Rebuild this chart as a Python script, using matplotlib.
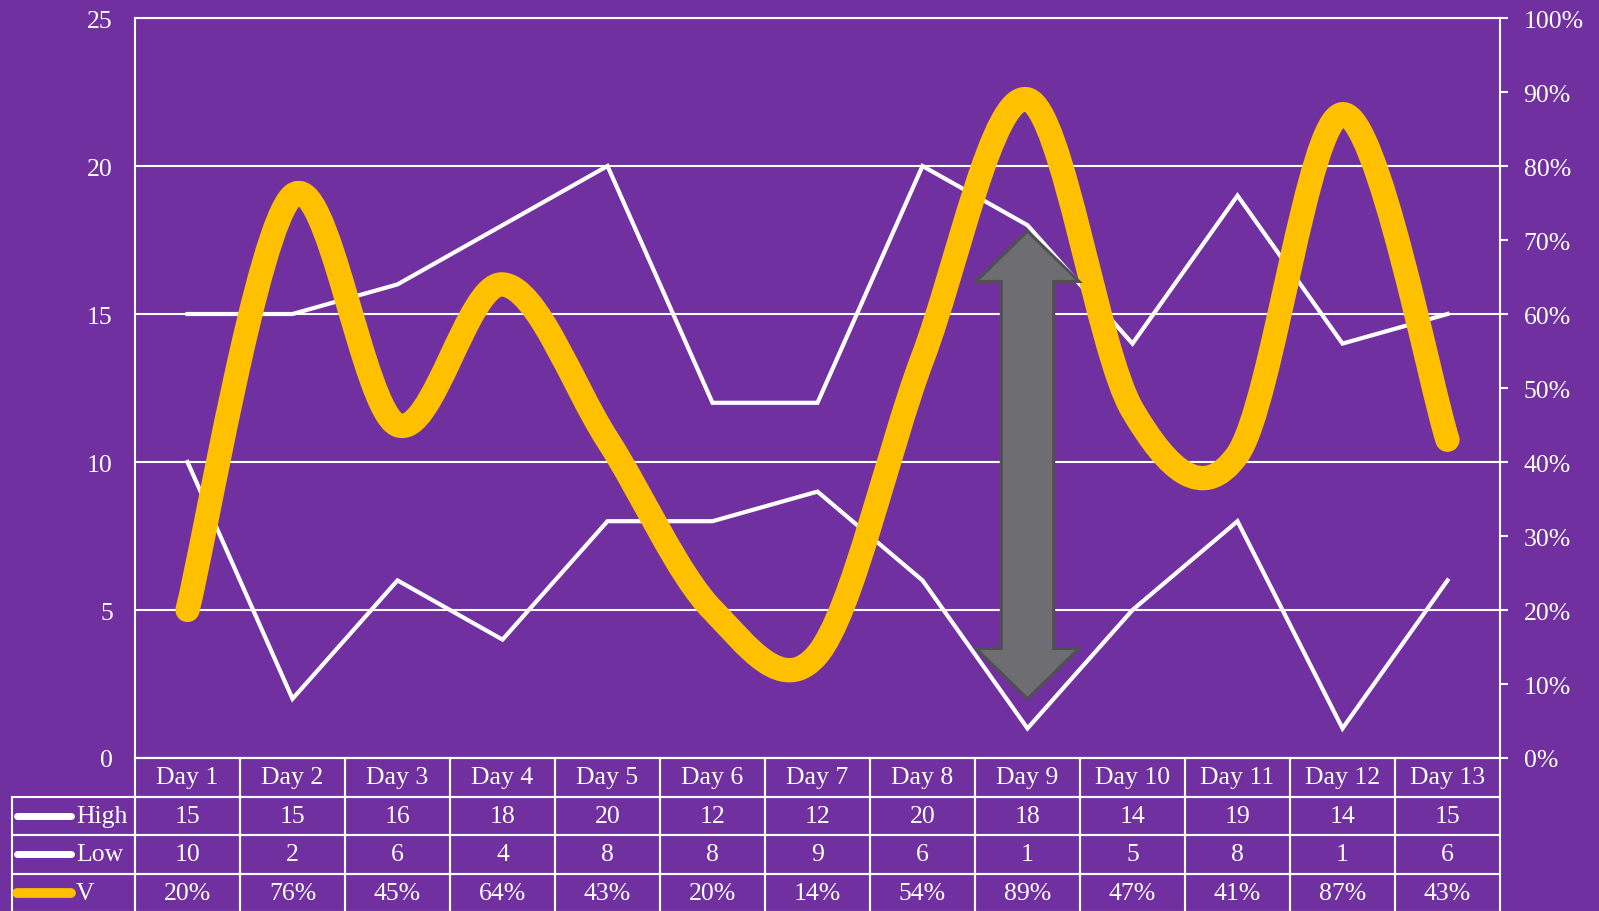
import numpy as np
import matplotlib.pyplot as plt
from matplotlib.path import Path
from matplotlib.patches import PathPatch, Polygon
from matplotlib.ticker import FuncFormatter

###############################################################################
# Data
days = ['Day 1', 'Day 2', 'Day 3', 'Day 4', 'Day 5', 'Day 6', 'Day 7',
        'Day 8', 'Day 9', 'Day 10', 'Day 11', 'Day 12', 'Day 13']
high = [15, 15, 16, 18, 20, 12, 12, 20, 18, 14, 19, 14, 15]
low  = [10, 2, 6, 4, 8, 8, 9, 6, 1, 5, 8, 1, 6]
v    = [20, 76, 45, 64, 43, 20, 14, 54, 89, 47, 41, 87, 43]   # %

# double arrow callout (primary axis units)
arrow_day    = 8
arrow_top    = 17.8
arrow_bottom = 2.0

###############################################################################
purple = '#7030A0'
yellow = '#FFC000'
font   = 'Liberation Serif'
fs     = 18.5

plt.rcParams['font.family'] = [font, 'DejaVu Serif']

W, H = 1599, 912
fig = plt.figure(figsize=(W/100., H/100.), dpi=100, facecolor=purple)
# plot area in pixels
left, right, top, bottom = 135, 1500, 19, 759
ax = fig.add_axes([left/W, 1-bottom/H, (right-left)/W, (bottom-top)/H])
ax.set_facecolor(purple)

x = np.arange(len(days))
ax.plot(x, high, color='white', lw=3, zorder=3, solid_joinstyle='miter')
ax.plot(x, low, color='white', lw=3, zorder=3, solid_joinstyle='miter')

ax.set_xlim(-0.5, len(days)-0.5)
ax.set_ylim(0, 25)
ax.set_yticks(np.arange(0, 26, 5))
ax.set_xticks([])
ax.grid(axis='y', color='white', lw=1.5)
ax.set_axisbelow(True)
ax.tick_params(axis='y', length=0, pad=16, colors='white', labelsize=fs)
for s in ['left', 'top', 'bottom']:
    ax.spines[s].set_color('white')
    ax.spines[s].set_linewidth(1.5)
ax.spines['right'].set_visible(False)

# secondary axis with smoothed V line
ax2 = ax.twinx()
ax2.set_ylim(0, 100)
ax2.set_yticks(np.arange(0, 101, 10))
ax2.yaxis.set_major_formatter(FuncFormatter(lambda t, p: '%d%%' % t))
ax2.tick_params(axis='y', length=6, width=1.5, direction='out', pad=11,
                colors='white', labelsize=fs)
for s in ['left', 'top', 'bottom']:
    ax2.spines[s].set_visible(False)
ax2.spines['right'].set_color('white')
ax2.spines['right'].set_linewidth(1.5)

# Excel-like smoothing (Catmull-Rom -> cubic bezier)
P = np.column_stack([x, v]).astype(float)
n = len(P)
verts = [P[0]]
codes = [Path.MOVETO]
for i in range(n-1):
    p0 = P[max(i-1, 0)]
    p1 = P[i]
    p2 = P[i+1]
    p3 = P[min(i+2, n-1)]
    c1 = p1 + (p2-p0)/6.
    c2 = p2 - (p3-p1)/6.
    verts += [c1, c2, p2]
    codes += [Path.CURVE4]*3
ax2.add_patch(PathPatch(Path(verts, codes), fill=False, edgecolor=yellow,
                        lw=17.5, capstyle='round', joinstyle='round', zorder=4))

# grey double arrow
hw, sw, hl = 0.49, 0.25, 1.7
cx = arrow_day
arr = [(cx, arrow_top), (cx+hw, arrow_top-hl), (cx+sw, arrow_top-hl),
       (cx+sw, arrow_bottom+hl), (cx+hw, arrow_bottom+hl), (cx, arrow_bottom),
       (cx-hw, arrow_bottom+hl), (cx-sw, arrow_bottom+hl),
       (cx-sw, arrow_top-hl), (cx-hw, arrow_top-hl)]
ax2.add_patch(Polygon(arr, closed=True, transform=ax.transData,
                      facecolor='#6E6D72', edgecolor='#505052', lw=2.2,
                      joinstyle='miter', zorder=6))

###############################################################################
# data table below the plot
rows = [('High', high, 'white'), ('Low', low, 'white'),
        ('V', ['%d%%' % a for a in v], yellow)]
cell_text = [[''] + [str(a) for a in r[1]] for r in rows]
pw = right - left
ph = bottom - top
lab_w = left - 12
row_h = 38.5
ncol = len(days)
col_w = [lab_w] + [pw/ncol]*ncol
tbl = ax.table(cellText=cell_text, colLabels=[''] + days,
               colWidths=[c/(lab_w+pw) for c in col_w],
               cellLoc='center', colLoc='center',
               bbox=[-lab_w/pw, -4*row_h/ph, (lab_w+pw)/pw, 4*row_h/ph])
tbl.auto_set_font_size(False)
tbl.set_fontsize(fs)
for (r, c), cell in tbl.get_celld().items():
    cell.set_facecolor('none')
    cell.set_edgecolor('white')
    cell.set_linewidth(1.5)
    cell.get_text().set_color('white')
    cell.get_text().set_fontfamily(font)
    if r == 0 and c == 0:
        cell.visible_edges = ''

# legend keys in the row label column
for k, (name, vals, col) in enumerate(rows):
    yc = -(k+1.5)*row_h/ph
    ax.plot([(17-left)/pw, (71-left)/pw], [yc, yc], transform=ax.transAxes,
            color=col, lw=5 if col == 'white' else 7, solid_capstyle='round',
            clip_on=False)
    ax.text((76-left)/pw, yc, name, transform=ax.transAxes, color='white',
            fontsize=fs, va='center', ha='left')

fig.savefig('out.png', dpi=100, facecolor=purple)
